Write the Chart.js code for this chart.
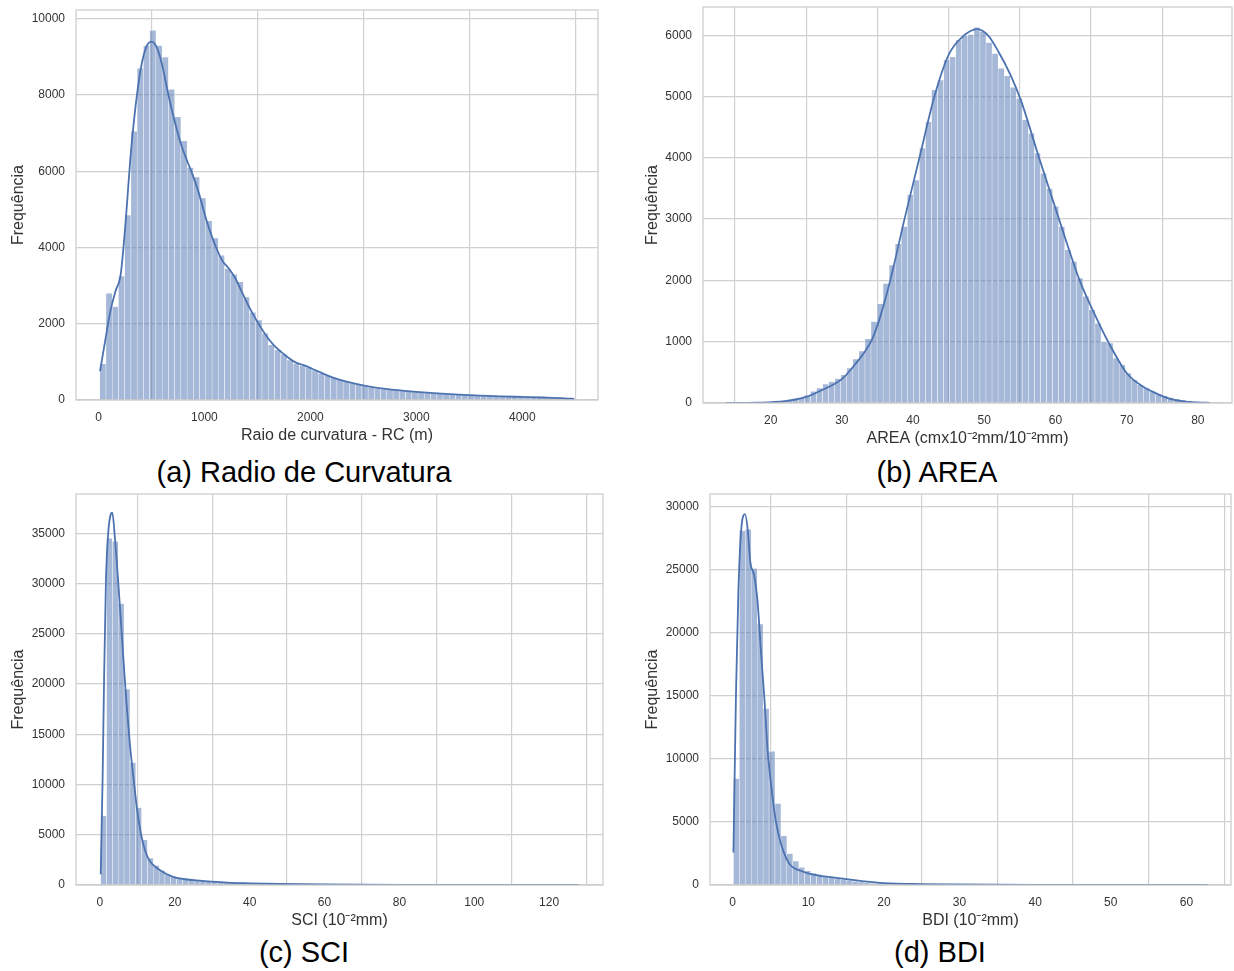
<!DOCTYPE html>
<html>
<head>
<meta charset="utf-8">
<script src="https://cdn.jsdelivr.net/npm/chart.js@4"></script>
<style>
  body { margin: 0; background: #fff; width: 1234px; height: 971px; position: relative; overflow: hidden;
         font-family: "Liberation Sans", Arial, sans-serif; }
  canvas { position: absolute; }
  .cap { position: absolute; font-size: 29px; color: #000; transform: translate(-50%, -50%); white-space: nowrap; }
</style>
</head>
<body>
<canvas id="rcChart"></canvas>
<canvas id="areaChart"></canvas>
<canvas id="sciChart"></canvas>
<canvas id="bdiChart"></canvas>
<div class="cap" style="left:304px; top:472px">(a) Radio de Curvatura</div>
<div class="cap" style="left:937px; top:472px">(b) AREA</div>
<div class="cap" style="left:304px; top:952px">(c) SCI</div>
<div class="cap" style="left:940px; top:952px">(d) BDI</div>
<script>
// (a) Raio de curvatura - histogram bins and KDE
const rcBinStart = 12, rcBinWidth = 58.9;
const rcCounts = [950, 2800, 2450, 3250, 4850, 7050, 8700, 9300, 9700, 9300,
  9000, 8150, 7430, 6800, 6100, 5850, 5300, 4700, 4250, 3800,
  3450, 3300, 3100, 2700, 2300, 2100, 1750, 1450, 1320, 1200,
  1050, 960, 900, 860, 780, 700, 650, 590, 530, 490,
  445, 400, 372, 335, 305, 288, 270, 262, 238, 228,
  212, 205, 188, 176, 172, 158, 150, 138, 132, 118,
  116, 108, 106, 98, 94, 92, 84, 80, 78, 70,
  66, 58, 55, 48, 42, 28];
const rcKdeX = [15, 60, 110, 160, 210, 260, 300, 350, 400, 450, 500, 550, 600, 660, 720, 780, 840, 890, 950, 1000,
  1050, 1110, 1170, 1230, 1290, 1350, 1420, 1500, 1580, 1650, 1750, 1850, 1950, 2050, 2200, 2400, 2600, 2800,
  3000, 3200, 3400, 3600, 3800, 4000, 4200, 4400, 4490];
const rcKdeY = [760, 1500, 2300, 2850, 3300, 4800, 6300, 7700, 8700, 9250, 9400, 9250, 8800, 8000, 7300, 6700, 6250, 5900, 5400, 4900,
  4450, 4000, 3650, 3450, 3200, 2850, 2450, 2050, 1700, 1450, 1200, 1000, 900, 780, 600, 440, 330, 265,
  215, 175, 140, 115, 95, 80, 65, 45, 30];
const rcXTicks = [0, 1000, 2000, 3000, 4000];
const rcYTicks = [0, 2000, 4000, 6000, 8000, 10000];

// (b) AREA
const areaBinStart = 13.7, areaBinWidth = 0.85;
const areaCounts = [2, 3, 4, 5, 7, 9, 12, 16, 22, 30,
  42, 60, 85, 130, 190, 245, 310, 350, 400, 460,
  570, 720, 850, 1050, 1330, 1620, 1950, 2250, 2600, 2880,
  3400, 3640, 4160, 4590, 5110, 5270, 5600, 5650, 5920, 6000,
  6010, 6130, 6060, 5880, 5700, 5460, 5340, 5150, 4970, 4620,
  4400, 4080, 3750, 3500, 3210, 2880, 2500, 2310, 2040, 1740,
  1520, 1300, 1005, 980, 735, 625, 490, 380, 300, 245,
  190, 152, 120, 92, 70, 54, 38, 22, 12, 6];
const areaKdeX = [13.7, 18, 22, 25, 27, 30, 32, 33, 34.3, 35.5, 36.8, 38.8, 40.9, 43, 45, 47, 49, 50.5, 52, 53.7, 55.2, 57.7,
  60.5, 63.4, 65.5, 67.4, 70, 72, 74, 76, 78, 80, 81.7];
const areaKdeY = [0, 5, 30, 100, 200, 390, 650, 800, 1050, 1450, 2000, 3000, 4000, 5000, 5680, 5980, 6100, 6000, 5730, 5350, 4920, 4000,
  3000, 2000, 1450, 1000, 490, 290, 165, 70, 25, 8, 2];
const areaXTicks = [20, 30, 40, 50, 60, 70, 80];
const areaYTicks = [0, 1000, 2000, 3000, 4000, 5000, 6000];

// (c) SCI
const sciBinStart = 0.2, sciBinWidth = 1.56;
const sciCounts = [6900, 34500, 34200, 28000, 19500, 12200, 7700, 4500, 2700, 1950,
  1450, 1100, 880, 760, 660, 590, 520, 470, 430, 380,
  330, 290, 255, 220, 195, 170, 150, 132, 118, 104,
  92, 82, 72, 64, 56, 50, 44, 40, 35, 31,
  28, 25, 22, 20, 18, 16, 14, 13, 12, 11,
  10, 9, 8, 8, 7, 6, 6, 5, 5, 4,
  4, 4, 3, 3, 3, 3, 2, 2, 2, 2,
  2, 2, 1, 1, 1, 1, 1, 1, 1, 1, 1, 1];
const sciKdeX = [0.2, 0.7, 1.1, 1.6, 2.2, 2.9, 3.3, 4.0, 5.0, 6.0, 7.0, 8.0, 9.0, 10, 11, 12, 13.1, 15.3, 17.5, 20,
  25, 30, 34, 40, 48, 60, 80, 100, 128];
const sciKdeY = [1060, 10400, 20400, 30300, 35000, 36900, 37050, 34500, 29500, 24000, 18500, 14000, 10500, 7300, 5000, 3500, 2500, 1660, 1150, 760,
  480, 330, 240, 170, 100, 50, 15, 5, 1];
const sciXTicks = [0, 20, 40, 60, 80, 100, 120];
const sciYTicks = [0, 5000, 10000, 15000, 20000, 25000, 30000, 35000];

// (d) BDI
const bdiBinStart = 0.1, bdiBinWidth = 0.785;
const bdiCounts = [8440, 28100, 28200, 25100, 20700, 14000, 10600, 6470, 3900, 2500,
  1900, 1400, 1130, 950, 820, 700, 600, 520, 450, 380,
  300, 240, 190, 150, 125, 105, 90, 80, 72, 65,
  60, 55, 50, 46, 42, 38, 34, 40, 36, 30,
  26, 22, 19, 17, 15, 13, 12, 11, 10, 9,
  8, 7, 7, 6, 5, 5, 4, 4, 3, 3,
  3, 3, 2, 2, 2, 2, 2, 2, 1, 1,
  1, 1, 1, 1, 1, 1, 1, 1, 1, 1];
const bdiKdeX = [0.1, 0.44, 0.75, 1.1, 1.63, 1.98, 2.33, 2.86, 3.3, 3.74, 4.19, 4.63, 5.07, 5.7, 6.4, 7.05, 7.7, 9.0, 10,
  12.1, 14.3, 17.4, 20, 25, 30, 35, 40, 50, 62.8];
const bdiKdeY = [2580, 15300, 23200, 27960, 29400, 28220, 25600, 24500, 22400, 18500, 14800, 10600, 8000, 5080, 3230, 2180, 1525, 1130, 920,
  680, 525, 290, 150, 70, 40, 20, 10, 4, 1];
const bdiXTicks = [0, 10, 20, 30, 40, 50, 60];
const bdiYTicks = [0, 5000, 10000, 15000, 20000, 25000, 30000];

const BLUE = '#4c72b0';
const GRID = '#d0d0d0';
const FONT = '"Liberation Sans", Arial, sans-serif';

// draws the light gray box around the plot area, like the seaborn spines
const framePlugin = {
  id: 'frame',
  afterDraw(chart) {
    const { ctx, chartArea: a } = chart;
    ctx.save();
    ctx.strokeStyle = '#cccccc';
    ctx.lineWidth = 1.25;
    ctx.strokeRect(a.left, a.top, a.right - a.left, a.bottom - a.top);
    ctx.restore();
  }
};

function noPad(s) {
  s.paddingTop = 0; s.paddingBottom = 0; s.paddingLeft = 0; s.paddingRight = 0;
}

function drawHist(id, box, binStart, binWidth, counts, kdeX, kdeY, xTicks, yTicks, xMin, xMax, yMax, xTitle) {
  const cv = document.getElementById(id);
  const left = Math.round(box.titleX - 9.6), top = box.T - 5;
  const right = box.R + 5, bottom = Math.round(box.B + 44.6);
  cv.width = right - left;
  cv.height = bottom - top;
  cv.style.left = left + 'px';
  cv.style.top = top + 'px';
  const yW = box.L - left, xH = bottom - box.B;

  const bars = counts.map((c, i) => ({ x: binStart + binWidth * (i + 0.5), y: c }));
  const kde = kdeX.map((x, i) => ({ x: x, y: kdeY[i] }));

  new Chart(cv, {
    type: 'bar',
    data: {
      datasets: [{
        type: 'line',
        data: kde,
        borderColor: BLUE,
        borderWidth: 1.8,
        pointRadius: 0,
        fill: false,
        cubicInterpolationMode: 'monotone',
        order: 0
      }, {
        type: 'bar',
        data: bars,
        backgroundColor: 'rgba(76,114,176,0.5)',
        borderColor: 'rgba(255,255,255,0.9)',
        borderWidth: { top: 0.6, left: 0.5, right: 0.5, bottom: 0 },
        barPercentage: 1,
        categoryPercentage: 1,
        grouped: false,
        order: 1
      }]
    },
    options: {
      responsive: false,
      animation: false,
      events: [],
      layout: { padding: { top: 5, right: 5, left: 0, bottom: 0 } },
      plugins: { legend: { display: false }, tooltip: { enabled: false } },
      scales: {
        x: {
          type: 'linear', min: xMin, max: xMax, offset: false,
          grid: { color: GRID, lineWidth: 1.2, drawTicks: false },
          border: { display: false },
          afterBuildTicks: s => { s.ticks = xTicks.map(v => ({ value: v })); },
          afterFit: s => { s.height = xH; noPad(s); },
          ticks: { autoSkip: false, maxRotation: 0, padding: 10, color: '#333', font: { family: FONT, size: 12 },
                   callback: v => String(v) },
          title: { display: true, text: xTitle, color: '#333', font: { family: FONT, size: 16 }, padding: 0 }
        },
        y: {
          type: 'linear', min: 0, max: yMax,
          grid: { color: GRID, lineWidth: 1.2, drawTicks: false },
          border: { display: false },
          afterBuildTicks: s => { s.ticks = yTicks.map(v => ({ value: v })); },
          afterFit: s => { s.width = yW; noPad(s); },
          ticks: { autoSkip: false, padding: 11, color: '#333', font: { family: FONT, size: 12 },
                   callback: v => String(v) },
          title: { display: true, text: 'Frequência', color: '#333', font: { family: FONT, size: 16 }, padding: { top: 2 } }
        }
      }
    },
    plugins: [framePlugin]
  });
}

drawHist('rcChart', { L: 76, T: 10, R: 598, B: 400, titleX: 17 },
  rcBinStart, rcBinWidth, rcCounts, rcKdeX, rcKdeY, rcXTicks, rcYTicks, -212, 4714, 10230,
  'Raio de curvatura - RC (m)');
drawHist('areaChart', { L: 703, T: 7, R: 1232, B: 403, titleX: 651 },
  areaBinStart, areaBinWidth, areaCounts, areaKdeX, areaKdeY, areaXTicks, areaYTicks, 10.5, 84.8, 6460,
  'AREA (cmx10⁻²mm/10⁻²mm)');
drawHist('sciChart', { L: 76, T: 494, R: 603, B: 885, titleX: 17 },
  sciBinStart, sciBinWidth, sciCounts, sciKdeX, sciKdeY, sciXTicks, sciYTicks, -6.4, 134.4, 38900,
  'SCI (10⁻²mm)');
drawHist('bdiChart', { L: 710, T: 494, R: 1231, B: 885, titleX: 651 },
  bdiBinStart, bdiBinWidth, bdiCounts, bdiKdeX, bdiKdeY, bdiXTicks, bdiYTicks, -3.0, 65.9, 31000,
  'BDI (10⁻²mm)');
</script>
</body>
</html>
